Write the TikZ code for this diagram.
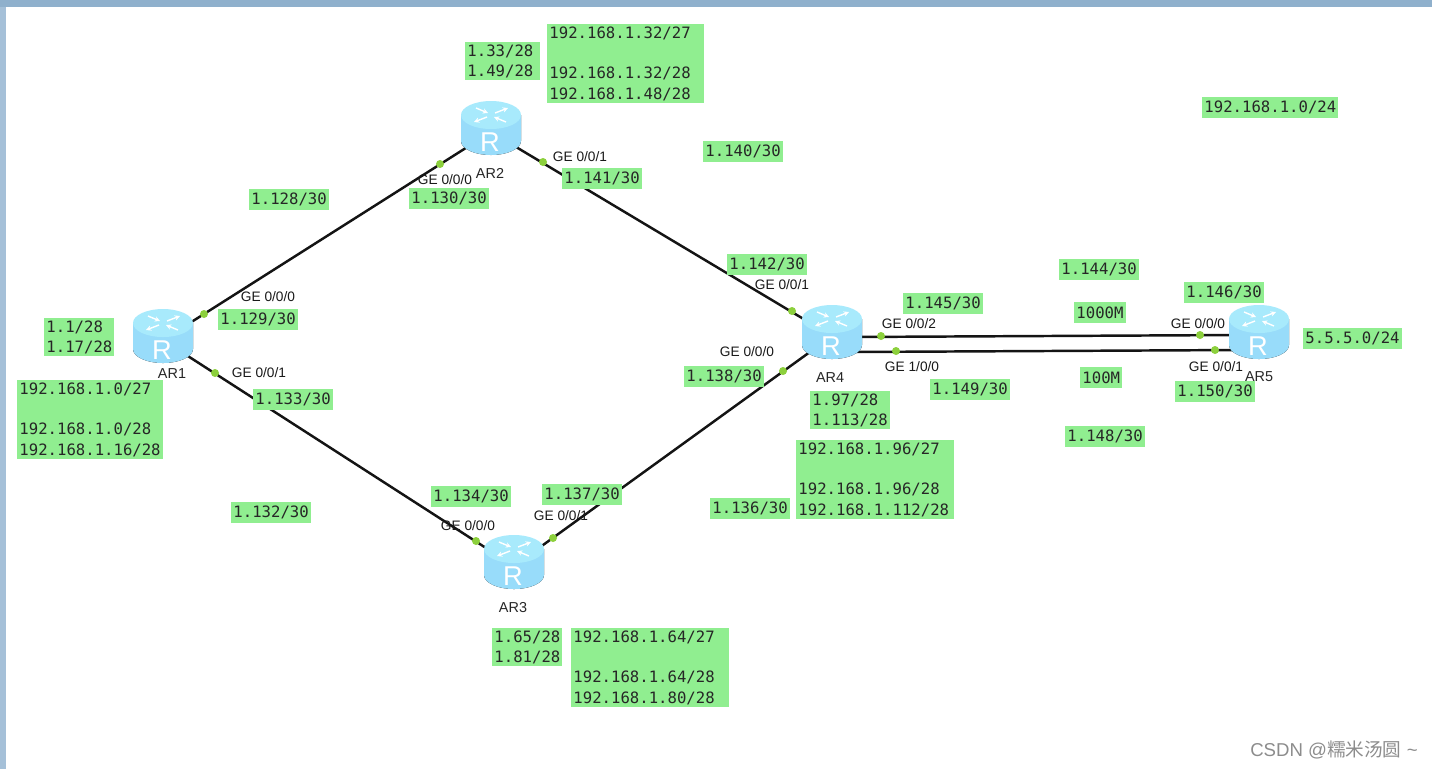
\documentclass[tikz,border=0pt]{standalone}
\usepackage{fontspec}
\setmainfont{Liberation Sans}
\newfontfamily\tagfont{DejaVu Sans Mono}
\newfontfamily\cjk{Noto Sans CJK SC}
\usetikzlibrary{arrows.meta,shapes.geometric}
\definecolor{tagbg}{HTML}{90EE90}
\definecolor{portc}{HTML}{8CD03C}
\definecolor{wirec}{HTML}{141414}
\definecolor{rtop}{HTML}{A8EAFC}
\definecolor{rside}{HTML}{72C2F6}
\definecolor{redge}{HTML}{98DCFA}
\definecolor{frametop}{HTML}{8FB0CC}
\definecolor{frameleft}{HTML}{A5C0D8}
\tikzset{
  % routers stay invisible as nodes, the icon is a pic drawn over the wires
  router/.style={ellipse, minimum width=0.9cm, minimum height=0.8cm, inner sep=0pt},
  wire/.style={line width=1.4pt, wirec},
  port/.style={circle, fill=portc, inner sep=0pt, minimum size=0.16cm},
  tag/.style={anchor=north west, fill=tagbg, inner sep=1.2pt, minimum height=0.42cm,
    align=left, text=black!85, font=\tagfont\fontsize{8.9}{11.6}\selectfont},
  widetag/.style={tag, text width=#1},
  ifname/.style={inner sep=0pt, text=black!90, font=\fontsize{7.8}{9}\selectfont},
  hostname/.style={inner sep=0pt, text=black!85, font=\fontsize{8.2}{10}\selectfont},
  arrowtick/.style={white, line width=0.8pt, -{Stealth[length=3pt,width=3pt]}},
  router icon/.pic={
    \fill[left color=redge, middle color=rside, right color=redge]
      (-30,-17) -- (-30,9) arc[start angle=180, end angle=0, x radius=30, y radius=14]
      -- (30,-17) -- cycle;
    \fill[rtop] (0,-17) ellipse [x radius=30, y radius=14];
    \draw[arrowtick] (-4,-15) -- (-17,-10);
    \draw[arrowtick] (-15,-24) -- (-3,-19);
    \draw[arrowtick] (4,-19) -- (17,-24);
    \draw[arrowtick] (15,-10) -- (3,-15);
    \node[inner sep=0pt, text=white, font=\fontsize{15.5}{16}\selectfont] (glyph) at (-1,10) {R};
  }
}
\begin{document}
\begin{tikzpicture}[x=0.02cm, y=-0.02cm]
\useasboundingbox (0,0) rectangle (1432,769);

% Window frame
\fill[frameleft] (0,0) rectangle (6,769);
\fill[frametop] (0,0) rectangle (1432,7);

% Routers
\node[router] (ar1) at (163,340) {};
\node[router] (ar2) at (491,132) {};
\node[router] (ar3) at (514,566) {};
\node[router] (ar4) at (832,336) {};
\node[router] (ar5) at (1259,336) {};

\coordinate (ar4a) at (850,337);
\coordinate (ar4b) at (850,352);
\coordinate (ar5a) at (1240,335);
\coordinate (ar5b) at (1240,350);

% Wires (drawn first)
\draw[wire] (ar1) -- (ar2);
\draw[wire] (ar2) -- (ar4);
\draw[wire] (ar1) -- (ar3);
\draw[wire] (ar3) -- (ar4);
\draw[wire] (ar4a) -- (ar5a);
\draw[wire] (ar4b) -- (ar5b);

% Icons (on top of wires)
\foreach \r in {ar1,ar2,ar3,ar4,ar5} {
  \pic (\r icon) at (\r) {router icon};
}

% Ports
\node[port] (p1a) at (204,314) {};
\node[port] (p1b) at (215,373) {};
\node[port] (p2a) at (440,164) {};
\node[port] (p2b) at (543,162) {};
\node[port] (p3a) at (476,541) {};
\node[port] (p3b) at (553,538) {};
\node[port] (p4a) at (783,371) {};
\node[port] (p4b) at (792,311) {};
\node[port] (p4c) at (881,336) {};
\node[port] (p4d) at (896,351) {};
\node[port] (p5a) at (1200,335) {};
\node[port] (p5b) at (1215,350) {};

% Router names
\node[hostname] (n1) at (172,374) {AR1};
\node[hostname] (n2) at (490,173) {AR2};
\node[hostname] (n3) at (513,608) {AR3};
\node[hostname] (n4) at (830,378) {AR4};
\node[hostname] (n5) at (1259,377) {AR5};

% Interface names
\node[ifname] (g1a) at (268,297) {GE 0/0/0};
\node[ifname] (g1b) at (259,373) {GE 0/0/1};
\node[ifname] (g2a) at (445,180) {GE 0/0/0};
\node[ifname] (g2b) at (580,157) {GE 0/0/1};
\node[ifname] (g3a) at (468,526) {GE 0/0/0};
\node[ifname] (g3b) at (561,516) {GE 0/0/1};
\node[ifname] (g4a) at (747,352) {GE 0/0/0};
\node[ifname] (g4b) at (782,285) {GE 0/0/1};
\node[ifname] (g4c) at (909,324) {GE 0/0/2};
\node[ifname] (g4d) at (912,367) {GE 1/0/0};
\node[ifname] (g5a) at (1198,324) {GE 0/0/0};
\node[ifname] (g5b) at (1216,367) {GE 0/0/1};

% Address tags
\node[widetag=1.4cm] (t33) at (465,42) {1.33/28\\1.49/28};
\node[widetag=3.04cm] (t32) at (547,24) {192.168.1.32/27\\[11.6pt]192.168.1.32/28\\192.168.1.48/28};
\node[tag] (t0) at (1202,97) {192.168.1.0/24};
\node[tag] (t140) at (703,141) {1.140/30};
\node[tag] (t128) at (249,189) {1.128/30};
\node[tag] (t130) at (409,188) {1.130/30};
\node[tag] (t141) at (562,168) {1.141/30};
\node[tag] (t142) at (727,254) {1.142/30};
\node[tag] (t144) at (1059,259) {1.144/30};
\node[tag] (t145) at (903,293) {1.145/30};
\node[tag] (t146) at (1184,282) {1.146/30};
\node[tag] (t1000) at (1074,302) {1000M};
\node[tag] (t129) at (218,309) {1.129/30};
\node[tag] (t1) at (44,318) {1.1/28\\1.17/28};
\node[tag] (t5) at (1303,328) {5.5.5.0/24};
\node[tag] (t100) at (1080,367) {100M};
\node[tag] (t138) at (684,366) {1.138/30};
\node[tag] (t149) at (930,379) {1.149/30};
\node[tag] (t150) at (1175,381) {1.150/30};
\node[tag] (t133) at (253,389) {1.133/30};
\node[tag] (t27) at (17,380) {192.168.1.0/27\\[11.6pt]192.168.1.0/28\\192.168.1.16/28};
\node[tag] (t97) at (810,391) {1.97/28\\1.113/28};
\node[tag] (t148) at (1065,426) {1.148/30};
\node[widetag=3.06cm] (t96) at (796,440) {192.168.1.96/27\\[11.6pt]192.168.1.96/28\\192.168.1.112/28};
\node[tag] (t134) at (431,486) {1.134/30};
\node[tag] (t137) at (542,484) {1.137/30};
\node[tag] (t136) at (710,498) {1.136/30};
\node[tag] (t132) at (231,502) {1.132/30};
\node[tag] (t65) at (492,628) {1.65/28\\1.81/28};
\node[widetag=3.06cm] (t64) at (571,628) {192.168.1.64/27\\[11.6pt]192.168.1.64/28\\192.168.1.80/28};

% Watermark
\node[anchor=east, inner sep=0pt, text=black!45, font=\fontsize{10.6}{13}\selectfont] (mark) at (1418,750) {CSDN @{\cjk 糯米汤圆} \textasciitilde};

\end{tikzpicture}
\end{document}
